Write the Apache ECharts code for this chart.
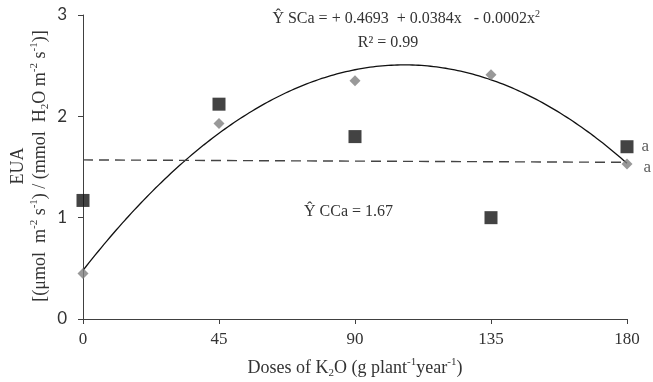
<!DOCTYPE html>
<html>
<head>
<meta charset="utf-8">
<script src="https://cdn.jsdelivr.net/npm/echarts@6/dist/echarts.min.js"></script>
<style>
  html, body { margin: 0; padding: 0; background: #fff; }
  #chart { width: 653px; height: 382px; }
</style>
</head>
<body>
<div id="chart"></div>
<script>
// K2O doses (g plant-1 year-1)
const doses = [0, 45, 90, 135, 180];
// Water use efficiency, without limestone (SCa)
const euaSCa = [0.45, 1.93, 2.35, 2.41, 1.53];
// Water use efficiency, with limestone (CCa)
const euaCCa = [1.17, 2.12, 1.80, 1.00, 1.70];
// Mean-comparison letters at the highest dose
const lettersSCa = ['', '', '', '', 'a'];
const lettersCCa = ['', '', '', '', 'a'];
// Axis ticks
const xTicks = [0, 45, 90, 135, 180];
const yTicks = [0, 1, 2, 3];

const SERIF = '"Liberation Serif", "Times New Roman", serif';
const SANS = 'Lato, "Liberation Sans", sans-serif';
const TXT = '#333333';

// Least-squares polynomial fit (normal equations, Gaussian elimination)
function polyfit(xs, ys, deg) {
  const n = deg + 1;
  const A = [];
  for (let r = 0; r < n; r++) {
    const row = [];
    for (let c = 0; c < n; c++) {
      let s = 0;
      xs.forEach(x => { s += Math.pow(x, r + c); });
      row.push(s);
    }
    let b = 0;
    xs.forEach((x, i) => { b += Math.pow(x, r) * ys[i]; });
    row.push(b);
    A.push(row);
  }
  for (let i = 0; i < n; i++) {
    let p = i;
    for (let k = i + 1; k < n; k++) if (Math.abs(A[k][i]) > Math.abs(A[p][i])) p = k;
    [A[i], A[p]] = [A[p], A[i]];
    for (let k = i + 1; k < n; k++) {
      const f = A[k][i] / A[i][i];
      for (let c = i; c <= n; c++) A[k][c] -= f * A[i][c];
    }
  }
  const coef = new Array(n).fill(0);
  for (let i = n - 1; i >= 0; i--) {
    let s = A[i][n];
    for (let c = i + 1; c < n; c++) s -= A[i][c] * coef[c];
    coef[i] = s / A[i][i];
  }
  return coef;
}
function evalPoly(coef, x) {
  return coef.reduce((acc, c, i) => acc + c * Math.pow(x, i), 0);
}

// Quadratic trend for SCa, linear trend for CCa
const quadSCa = polyfit(doses, euaSCa, 2);
const linCCa = polyfit(doses, euaCCa, 1);
const xMin = doses[0], xMax = doses[doses.length - 1];
const curveSCa = [];
for (let x = xMin; x <= xMax; x += 1) curveSCa.push([x, evalPoly(quadSCa, x)]);
const lineCCa = [[xMin, evalPoly(linCCa, xMin)], [xMax, evalPoly(linCCa, xMax)]];

const pairs = (xs, ys) => xs.map((x, i) => [x, ys[i]]);

const richSmall = {
  sup: { fontSize: 10, lineHeight: 10, verticalAlign: 'top', fontFamily: SERIF, fill: TXT, color: TXT },
  sub: { fontSize: 10, lineHeight: 10, verticalAlign: 'bottom', fontFamily: SERIF, fill: TXT, color: TXT }
};
const richTitle = {
  sup: { fontSize: 11, lineHeight: 11, verticalAlign: 'top', fontFamily: SERIF, fill: TXT, color: TXT },
  sub: { fontSize: 11, lineHeight: 11, verticalAlign: 'bottom', fontFamily: SERIF, fill: TXT, color: TXT }
};

const chart = echarts.init(document.getElementById('chart'), null, { renderer: 'canvas' });
chart.setOption({
  animation: false,
  backgroundColor: '#ffffff',
  grid: { left: 83, right: 26, top: 15, bottom: 63, containLabel: false },
  xAxis: {
    type: 'value', min: xTicks[0], max: xTicks[xTicks.length - 1], interval: xTicks[1] - xTicks[0],
    axisLine: { lineStyle: { color: '#404040', width: 1 } },
    axisTick: { show: true, inside: false, length: 5, lineStyle: { color: '#404040' } },
    axisLabel: { margin: 12, fontFamily: SERIF, fontSize: 17, color: TXT },
    splitLine: { show: false }
  },
  yAxis: {
    type: 'value', min: yTicks[0], max: yTicks[yTicks.length - 1], interval: yTicks[1] - yTicks[0],
    axisLine: { show: true, lineStyle: { color: '#404040', width: 1 } },
    axisTick: { show: true, inside: false, length: 5, lineStyle: { color: '#404040' } },
    axisLabel: { margin: 16, fontFamily: SANS, fontSize: 17, color: TXT },
    splitLine: { show: false }
  },
  series: [
    {
      type: 'line', data: curveSCa, showSymbol: false, symbol: 'none', smooth: false,
      lineStyle: { color: '#111111', width: 1.3 }, z: 2, silent: true
    },
    {
      type: 'line', data: lineCCa, showSymbol: false, symbol: 'none',
      lineStyle: { color: '#444444', width: 1.4, type: [10, 6] }, z: 2, silent: true
    },
    {
      type: 'scatter', data: pairs(doses, euaSCa), symbol: 'diamond', symbolSize: [11, 11],
      itemStyle: { color: '#808080' }, z: 3,
      label: {
        show: true, position: 'right', distance: 11, offset: [0, 4],
        formatter: p => lettersSCa[p.dataIndex],
        fontFamily: SERIF, fontSize: 17, color: TXT
      }
    },
    {
      type: 'scatter', data: pairs(doses, euaCCa), symbol: 'rect', symbolSize: 13,
      itemStyle: { color: '#141414' }, z: 4,
      label: {
        show: true, position: 'right', distance: 8,
        formatter: p => lettersCCa[p.dataIndex],
        fontFamily: SERIF, fontSize: 17, color: TXT
      }
    }
  ],
  graphic: [
    {
      type: 'text', x: 540, y: 19,
      style: {
        text: 'Ŷ SCa = + 0.4693  + 0.0384x   - 0.0002x{sup|2}',
        rich: richSmall, fontFamily: SERIF, fontSize: 16, lineHeight: 20, fill: TXT,
        align: 'right', verticalAlign: 'middle'
      }
    },
    {
      type: 'text', x: 388, y: 43,
      style: {
        text: 'R² = 0.99',
        fontFamily: SERIF, fontSize: 16, fill: TXT, align: 'center', verticalAlign: 'middle'
      }
    },
    {
      type: 'text', x: 304, y: 212,
      style: {
        text: 'Ŷ CCa = 1.67',
        fontFamily: SERIF, fontSize: 16, fill: TXT, align: 'left', verticalAlign: 'middle'
      }
    },
    {
      type: 'text', x: 355, y: 368,
      style: {
        text: 'Doses of K{sub|2}O (g plant{sup|-1}year{sup|-1})',
        rich: richTitle, fontFamily: SERIF, fontSize: 18, lineHeight: 22, fill: TXT,
        align: 'center', verticalAlign: 'middle'
      }
    },
    {
      type: 'text', x: 29, y: 166, rotation: Math.PI / 2,
      style: {
        text: 'EUA\n[(μmol  m{sup|-2} s{sup|-1}) / (mmol  H{sub|2}O m{sup|-2} s{sup|-1})]',
        rich: richTitle, fontFamily: SERIF, fontSize: 18, lineHeight: 22, fill: TXT,
        align: 'center', verticalAlign: 'middle'
      }
    }
  ]
});
</script>
</body>
</html>
